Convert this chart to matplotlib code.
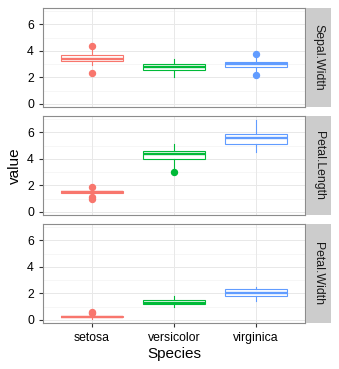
import matplotlib
matplotlib.use("Agg")
import matplotlib.pyplot as plt

plt.rcParams['font.family'] = ['Liberation Sans', 'DejaVu Sans']

species = ["setosa", "versicolor", "virginica"]
variables = ["Sepal.Width", "Petal.Length", "Petal.Width"]
colors = ["#F8766D", "#00BA38", "#619CFF"]

# five-number summaries: (whislo, q1, med, q3, whishi), outliers
sepal_width_stats = [(2.9, 3.2, 3.4, 3.675, 4.2), (2.0, 2.525, 2.8, 3.0, 3.4), (2.5, 2.8, 3.0, 3.175, 3.6)]
sepal_width_out = [[2.3, 4.4], [], [2.2, 3.8]]
petal_length_stats = [(1.2, 1.4, 1.5, 1.575, 1.7), (3.3, 4.0, 4.35, 4.6, 5.1), (4.5, 5.1, 5.55, 5.875, 6.9)]
petal_length_out = [[1.0, 1.1, 1.9], [3.0], []]
petal_width_stats = [(0.1, 0.2, 0.2, 0.3, 0.4), (1.0, 1.2, 1.3, 1.5, 1.8), (1.4, 1.8, 2.0, 2.3, 2.5)]
petal_width_out = [[0.5, 0.6], [], []]

all_stats = [sepal_width_stats, petal_length_stats, petal_width_stats]
all_out = [sepal_width_out, petal_length_out, petal_width_out]

yticks = [0, 2, 4, 6]

W, H = 339, 369
fig = plt.figure(figsize=(W / 100, H / 100), dpi=100)

left, right = 43, 305
panels = [(8, 107), (116, 215), (224, 323)]
strip_l, strip_r = 306, 331

for i, (top, bot) in enumerate(panels):
    ax = fig.add_axes([left / W, 1 - bot / H, (right - left) / W, (bot - top) / H])
    ax.set_facecolor("white")
    for y in [1, 3, 5, 7]:
        ax.axhline(y, color="#F5F5F5", lw=0.6, zorder=0)
    for y in yticks:
        ax.axhline(y, color="#E8E8E8", lw=0.7, zorder=0)
    for x in range(1, 4):
        ax.axvline(x, color="#E8E8E8", lw=0.7, zorder=0)
    for j, sp in enumerate(species):
        wl, q1, med, q3, wh = all_stats[i][j]
        st = dict(whislo=wl, q1=q1, med=med, q3=q3, whishi=wh,
                  fliers=all_out[i][j], label=sp)
        c = colors[j]
        ax.bxp([st], positions=[j + 1], widths=0.75, showcaps=False,
               patch_artist=True,
               boxprops=dict(facecolor="white", edgecolor=c, linewidth=0.8),
               whiskerprops=dict(color=c, linewidth=0.8),
               medianprops=dict(color=c, linewidth=1.7),
               flierprops=dict(marker="o", markerfacecolor=c, markeredgecolor=c,
                               markersize=4.3, linestyle="none"))
    ax.set_xlim(0.4, 3.6)
    ax.set_ylim(-0.24, 7.24)
    ax.set_yticks(yticks)
    ax.set_yticklabels([str(v) for v in yticks])
    ax.set_xticks([1, 2, 3])
    for s in ax.spines.values():
        s.set_color("#8C8C8C")
        s.set_linewidth(0.8)
    ax.tick_params(axis="both", colors="#333333", length=3, width=0.8,
                   labelsize=8.8, labelcolor="black")
    if i < 2:
        ax.tick_params(axis="x", bottom=False, labelbottom=False)
    else:
        ax.set_xticklabels(species)
        ax.set_xlabel("Species", fontsize=11, labelpad=2)
    if i == 1:
        ax.set_ylabel("value", fontsize=11, labelpad=4)
    # strip
    sax = fig.add_axes([strip_l / W, 1 - bot / H, (strip_r - strip_l) / W, (bot - top) / H])
    sax.set_xticks([]); sax.set_yticks([])
    sax.set_facecolor("#CCCCCC")
    for s in sax.spines.values():
        s.set_visible(False)
    sax.text(0.5, 0.5, variables[i], rotation=-90, ha="center", va="center",
             fontsize=8.8, color="#1A1A1A", transform=sax.transAxes)

fig.savefig("out.png", dpi=100)
